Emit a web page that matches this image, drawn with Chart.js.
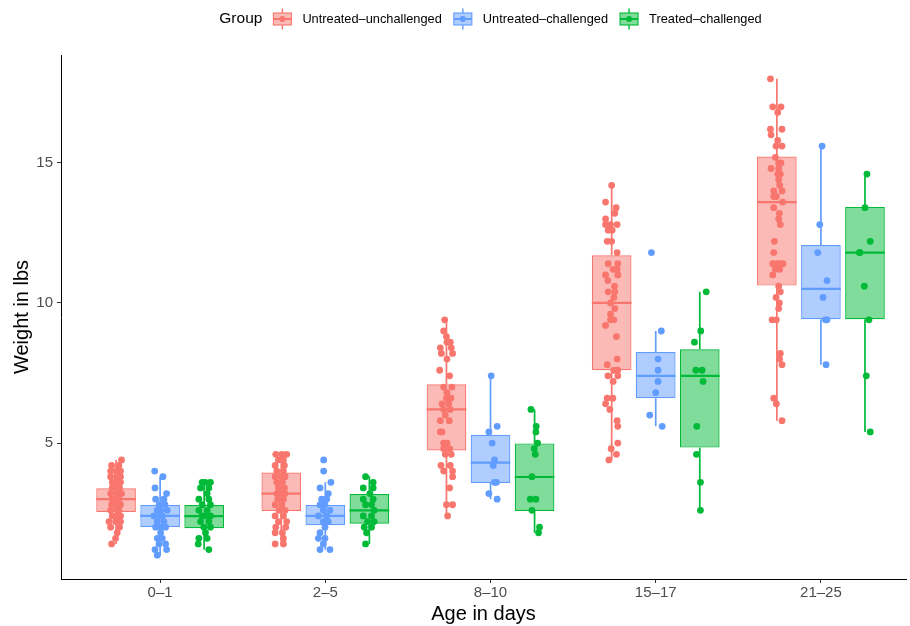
<!DOCTYPE html>
<html>
<head>
<meta charset="utf-8">
<script src="https://cdn.jsdelivr.net/npm/chart.js@4.4.1/dist/chart.umd.min.js"></script>
<style>
	html, body { margin: 0; padding: 0; background: #fff; }
	#wrap { width: 910px; height: 626px; }
</style>
</head>
<body>
<div id="wrap"><canvas id="myChart"></canvas></div>
<script>
const categories = ['0–1', '2–5', '8–10', '15–17', '21–25'];
const groups = ['Untreated–unchallenged', 'Untreated–challenged', 'Treated–challenged'];
const yTicks = [5, 10, 15];

// box stats per age class: [min, q1, median, q3, max]
const boxUU = [[1.4, 2.54, 3.0, 3.39, 4.4], [1.4, 2.58, 3.2, 3.95, 4.6], [2.4, 4.74, 6.2, 7.1, 9.4], [4.4, 7.6, 10.0, 11.7, 14.2], [5.8, 10.62, 13.6, 15.23, 18.0]];
const boxUC = [[1.0, 2.01, 2.4, 2.79, 3.8], [1.2, 2.07, 2.4, 2.79, 3.6], [3.0, 3.58, 4.3, 5.3, 7.4], [5.6, 6.6, 7.4, 8.25, 9.0], [7.8, 9.42, 10.5, 12.07, 15.6]];
const boxTC = [[1.2, 1.96, 2.39, 2.79, 3.6], [1.4, 2.12, 2.6, 3.18, 3.82], [1.8, 2.58, 3.79, 4.99, 6.2], [2.6, 4.84, 7.4, 8.35, 10.4], [5.4, 9.42, 11.8, 13.43, 14.6]];

// single animals per age class: [jitter, weight]
const ptsUU = [
	[[0.033,4.4],[-0.027,4.2],[0.017,4.2],[-0.033,4.0],[0.027,4.0],[0.000,4.0],[-0.033,3.8],[0.027,3.8],[0.003,3.8],[-0.023,3.6],[0.027,3.6],[0.000,3.6],[-0.023,3.4],[0.021,3.4],[-0.012,3.4],[-0.033,3.2],[0.017,3.2],[0.033,3.2],[0.006,3.2],[-0.023,3.0],[0.017,3.0],[-0.006,3.0],[-0.027,2.8],[0.027,2.8],[-0.006,2.8],[-0.033,2.6],[0.017,2.6],[0.006,2.6],[-0.023,2.4],[0.027,2.4],[0.006,2.4],[-0.043,2.2],[-0.003,2.2],[0.027,2.2],[-0.033,2.0],[0.021,2.0],[0.007,1.8],[-0.003,1.6],[-0.027,1.4]],
	[[-0.033,4.6],[0.033,4.6],[0.003,4.6],[-0.017,4.4],[0.013,4.4],[-0.037,4.2],[0.019,4.2],[-0.027,4.0],[0.013,4.0],[-0.037,3.8],[0.023,3.8],[0.000,3.8],[-0.027,3.6],[0.007,3.6],[-0.017,3.4],[0.019,3.4],[-0.027,3.2],[0.023,3.2],[0.003,3.2],[-0.021,3.0],[0.013,3.0],[-0.037,2.8],[0.003,2.8],[-0.013,2.6],[0.023,2.6],[-0.037,2.4],[0.013,2.4],[-0.017,2.2],[0.033,2.2],[-0.033,2.0],[0.027,2.0],[-0.037,1.8],[0.007,1.8],[0.013,1.6],[-0.037,1.4],[0.013,1.4]],
	[[-0.011,9.4],[-0.017,9.0],[0.000,8.8],[0.023,8.6],[0.003,8.6],[-0.037,8.4],[0.029,8.4],[-0.031,8.2],[0.037,8.2],[0.003,8.0],[-0.041,7.6],[0.019,7.4],[-0.017,7.0],[0.033,7.0],[0.003,6.8],[0.000,6.6],[0.027,6.6],[-0.027,6.4],[0.013,6.4],[-0.017,6.2],[0.023,6.2],[-0.007,6.0],[-0.037,5.8],[0.017,5.8],[-0.037,5.4],[-0.027,5.4],[-0.017,5.0],[0.003,5.0],[0.019,4.8],[-0.017,4.8],[0.029,4.6],[-0.007,4.6],[-0.033,4.2],[0.023,4.2],[-0.017,4.0],[0.037,4.0],[0.037,3.8],[0.019,3.4],[0.000,2.8],[0.037,2.8],[0.007,2.4]],
	[[0.000,14.2],[-0.037,13.6],[0.027,13.4],[0.019,13.2],[-0.037,13.0],[-0.037,12.8],[-0.007,12.8],[0.033,12.8],[-0.021,12.6],[0.003,12.6],[-0.027,12.2],[0.000,12.2],[0.033,11.8],[-0.021,11.4],[0.037,11.4],[0.009,11.2],[0.033,11.2],[-0.037,11.0],[0.037,11.0],[-0.023,10.8],[0.017,10.6],[-0.021,10.4],[0.019,10.4],[0.013,10.2],[-0.007,10.0],[0.019,9.8],[-0.007,9.6],[-0.007,9.4],[0.013,9.4],[-0.037,9.2],[0.029,8.8],[0.033,8.0],[-0.027,7.8],[0.013,7.6],[0.037,7.6],[-0.023,7.4],[0.037,7.4],[0.009,7.2],[-0.027,6.6],[0.007,6.6],[-0.037,6.4],[-0.011,6.2],[0.033,5.8],[0.037,5.6],[0.037,5.0],[-0.003,4.8],[0.029,4.6],[-0.017,4.4]],
	[[-0.039,18.0],[-0.025,17.0],[0.025,17.0],[0.005,16.8],[-0.039,16.2],[0.031,16.2],[-0.035,16.0],[0.005,15.8],[-0.005,15.6],[0.031,15.6],[-0.009,15.2],[0.011,15.0],[0.025,15.0],[-0.035,14.8],[0.011,14.8],[0.005,14.6],[0.021,14.6],[0.011,14.4],[0.017,14.2],[-0.019,14.0],[0.031,14.0],[-0.019,13.8],[-0.003,13.8],[0.035,13.6],[-0.019,13.4],[0.015,13.2],[0.011,13.0],[0.021,12.8],[-0.015,12.2],[-0.019,11.8],[-0.025,11.4],[-0.003,11.4],[0.017,11.4],[0.037,11.4],[-0.009,11.2],[0.017,11.2],[-0.025,11.0],[0.011,10.6],[0.021,10.4],[-0.005,10.2],[0.015,10.0],[0.011,9.8],[-0.029,9.4],[-0.003,9.4],[0.021,8.2],[0.017,8.0],[0.031,7.8],[-0.019,6.6],[-0.003,6.4],[0.031,5.8]]
];
const ptsUC = [
	[[-0.033,4.0],[0.017,3.8],[-0.031,3.4],[0.039,3.2],[-0.027,3.0],[0.023,3.0],[0.029,2.8],[-0.006,2.8],[0.003,2.6],[0.043,2.6],[-0.018,2.6],[-0.037,2.4],[0.013,2.4],[0.000,2.4],[-0.017,2.2],[0.023,2.2],[-0.027,2.0],[0.033,2.0],[0.006,2.0],[0.003,1.8],[-0.017,1.6],[0.013,1.6],[-0.007,1.4],[0.033,1.4],[-0.031,1.2],[0.039,1.2],[-0.017,1.0]],
	[[-0.010,4.4],[-0.010,4.0],[0.034,3.6],[-0.032,3.4],[0.018,3.2],[-0.022,3.0],[0.008,3.0],[-0.032,2.8],[-0.002,2.8],[-0.012,2.6],[0.028,2.6],[-0.042,2.4],[0.008,2.4],[-0.012,2.2],[0.018,2.2],[-0.002,2.0],[-0.032,1.8],[-0.042,1.6],[-0.002,1.6],[-0.012,1.4],[-0.032,1.2],[0.028,1.2]],
	[[0.004,7.4],[0.040,5.6],[-0.010,5.4],[0.010,5.0],[0.024,4.4],[0.016,4.2],[0.024,3.6],[0.036,3.6],[-0.010,3.2],[0.040,3.0]],
	[[-0.026,11.8],[0.034,9.0],[0.014,8.0],[0.014,7.6],[0.014,7.2],[0.000,6.8],[-0.036,6.0],[0.039,5.6]],
	[[0.007,15.6],[-0.007,12.8],[-0.019,11.8],[0.037,10.8],[0.013,10.2],[0.027,9.4],[0.037,9.4],[0.031,7.8]]
];
const ptsTC = [
	[[-0.012,3.6],[0.038,3.6],[0.006,3.6],[-0.022,3.4],[0.028,3.4],[0.018,3.2],[-0.032,3.0],[0.028,3.0],[-0.012,2.8],[0.038,2.8],[-0.032,2.6],[0.018,2.6],[-0.012,2.4],[0.038,2.4],[0.004,2.4],[-0.022,2.2],[0.028,2.2],[-0.002,2.0],[0.038,2.0],[0.008,1.8],[-0.032,1.6],[0.018,1.6],[-0.036,1.4],[0.028,1.2]],
	[[-0.023,3.8],[0.023,3.6],[-0.037,3.4],[0.023,3.4],[0.003,3.2],[-0.037,3.0],[0.023,3.0],[-0.023,2.8],[0.013,2.8],[0.029,2.6],[-0.037,2.4],[0.013,2.4],[-0.011,2.2],[0.029,2.2],[-0.031,2.0],[0.013,2.0],[-0.017,1.8],[-0.023,1.4]],
	[[-0.022,6.2],[0.010,5.6],[0.008,5.4],[0.018,5.0],[-0.002,4.8],[0.004,4.6],[-0.016,3.8],[-0.026,3.0],[0.008,3.0],[-0.016,2.6],[0.030,2.0],[0.024,1.8]],
	[[0.039,10.4],[0.006,9.0],[-0.032,8.6],[-0.024,7.6],[0.014,7.6],[0.020,7.2],[-0.018,5.6],[-0.020,4.6],[0.004,3.6],[0.004,2.6]],
	[[0.012,14.6],[0.000,13.4],[0.032,12.2],[-0.034,11.8],[-0.030,11.8],[-0.004,10.6],[0.024,9.4],[0.008,7.4],[0.032,5.4]]
];

const boxes = [boxUU, boxUC, boxTC];
const points = [ptsUU, ptsUC, ptsTC];

const FONT = "'Liberation Sans', Arial, sans-serif";
const lineColors = ['#F8766D', '#619CFF', '#00BA38'];
const fillColors = ['rgba(248,118,109,0.5)', 'rgba(97,156,255,0.5)', 'rgba(0,186,56,0.5)'];
const dodge = [-0.8 / 3, 0, 0.8 / 3];

Chart.defaults.font.family = FONT;

// 박스플롯 = 떠있는 막대 + 점
let datasets = [];
groups.forEach(function(name, g) {
	let barCommon = { type: 'bar', grouped: false, categoryPercentage: 1, barPercentage: 0.9, borderSkipped: false };

	datasets.push({
		type: 'scatter', label: name, order: 0,
		data: points[g].flatMap((arr, c) => arr.map(p => ({ x: c + 1 + dodge[g] + p[0], y: p[1] }))),
		pointRadius: 3.4, pointBackgroundColor: lineColors[g], pointBorderWidth: 0
	});
	// median
	datasets.push(Object.assign({}, barCommon, {
		label: name + ' median', order: 1,
		data: boxes[g].map((b, c) => ({ x: c + 1 + dodge[g], y: [b[2] - 0.04, b[2] + 0.04] })),
		backgroundColor: lineColors[g], borderWidth: 0
	}));
	// box
	datasets.push(Object.assign({}, barCommon, {
		label: name + ' box', order: 2,
		data: boxes[g].map((b, c) => ({ x: c + 1 + dodge[g], y: [b[1], b[3]] })),
		backgroundColor: fillColors[g], borderColor: lineColors[g], borderWidth: 1.2
	}));
	// whiskers
	datasets.push(Object.assign({}, barCommon, {
		label: name + ' whisker', order: 3,
		data: boxes[g].flatMap((b, c) => [
			{ x: c + 1 + dodge[g], y: [b[0], b[1]] },
			{ x: c + 1 + dodge[g], y: [b[3], b[4]] }
		]),
		backgroundColor: lineColors[g], borderWidth: 0, maxBarThickness: 1.7
	}));
});

// ggplot 스타일 범례 (Group + 박스 키)
const groupLegend = {
	id: 'groupLegend',
	afterDraw(chart) {
		const ctx = chart.ctx;
		const area = chart.chartArea;
		const cy = 19, keyW = 20, gap = 10, itemGap = 11;
		ctx.save();
		ctx.textBaseline = 'middle';
		ctx.font = '15.5px ' + FONT;
		const titleW = ctx.measureText('Group').width;
		ctx.font = '12.8px ' + FONT;
		const labelW = groups.map(t => ctx.measureText(t).width);
		let total = titleW + gap;
		labelW.forEach((w, i) => { total += keyW + gap + w + (i < labelW.length - 1 ? itemGap : 0); });
		let x = (area.left + 920) / 2 - total / 2;

		ctx.fillStyle = '#000';
		ctx.font = '15.5px ' + FONT;
		ctx.fillText('Group', x, cy);
		x += titleW + gap;

		groups.forEach(function(t, i) {
			const kx = x + keyW / 2;
			ctx.strokeStyle = lineColors[i];
			ctx.lineWidth = 1.4;
			ctx.beginPath();
			ctx.moveTo(kx, cy - 10.5); ctx.lineTo(kx, cy - 6);
			ctx.moveTo(kx, cy + 6); ctx.lineTo(kx, cy + 10.5);
			ctx.stroke();
			ctx.fillStyle = fillColors[i];
			ctx.fillRect(x + 1, cy - 6, keyW - 2, 12);
			ctx.lineWidth = 1.1;
			ctx.strokeRect(x + 1, cy - 6, keyW - 2, 12);
			ctx.lineWidth = 2;
			ctx.beginPath();
			ctx.moveTo(x + 1, cy); ctx.lineTo(x + keyW - 1, cy);
			ctx.stroke();
			ctx.fillStyle = lineColors[i];
			ctx.beginPath();
			ctx.arc(kx, cy, 3, 0, Math.PI * 2);
			ctx.fill();
			x += keyW + gap;
			ctx.fillStyle = '#000';
			ctx.font = '12.8px ' + FONT;
			ctx.fillText(t, x, cy);
			x += labelW[i] + itemGap;
		});
		ctx.restore();
	}
};

let ctx = document.getElementById('myChart').getContext('2d');
let myChart = new Chart(ctx, {
	type: 'bar',
	data: { datasets: datasets },
	plugins: [groupLegend],
	options: {
		responsive: true,
		maintainAspectRatio: false,
		animation: false,
		events: [],
		layout: { padding: { top: 55, left: 0, right: 0, bottom: 0 } },
		plugins: {
			legend: { display: false },
			tooltip: { enabled: false }
		},
		scales: {
			x: {
				type: 'linear',
				min: 0.4,
				max: 5.515,
				offset: false,
				afterBuildTicks: s => { s.ticks = categories.map((c, i) => ({ value: i + 1 })); },
				afterFit: s => { s.height = 47; },
				border: { display: true, color: '#000', width: 1 },
				grid: { offset: false, drawOnChartArea: false, drawTicks: true, tickLength: 4, tickColor: '#333' },
				ticks: {
					color: '#4D4D4D', font: { size: 15 }, padding: 1,
					autoSkip: false, maxRotation: 0,
					callback: (v, i) => categories[i]
				},
				title: { display: true, text: 'Age in days', color: '#000', font: { size: 20 }, padding: { top: 0, bottom: 0 } }
			},
			y: {
				type: 'linear',
				min: 0.15,
				max: 18.85,
				afterBuildTicks: s => { s.ticks = yTicks.map(v => ({ value: v })); },
				afterFit: s => { s.width = 61; },
				border: { display: true, color: '#000', width: 1 },
				grid: { drawOnChartArea: false, drawTicks: true, tickLength: 4, tickColor: '#333' },
				ticks: { color: '#4D4D4D', font: { size: 15 }, padding: 4 },
				title: { display: true, text: 'Weight in lbs', color: '#000', font: { size: 20 }, padding: { top: 10, bottom: 0 } }
			}
		}
	}
}); // new Chart
</script>
</body>
</html>
